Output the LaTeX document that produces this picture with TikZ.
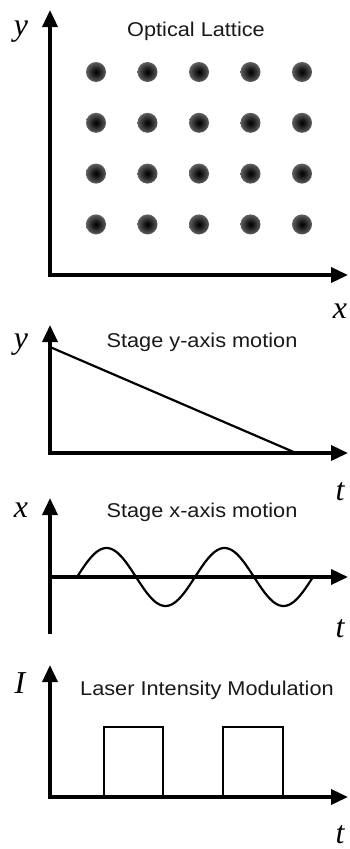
\documentclass[tikz,border=0pt]{standalone}
\usepackage{fontspec}
\setmainfont{Liberation Sans}
\newfontfamily\varfont{Liberation Serif}
\usepackage{graphicx}
\usetikzlibrary{arrows.meta}
\pgfdeclareradialshading{latticedot}{\pgfpoint{0bp}{0bp}}{color(0bp)=(black); color(8bp)=(black!90); color(25bp)=(black!62); color(50bp)=(black!35)}
\tikzset{
  axis/.style={line width=3.5bp,line cap=rect,-{Triangle[length=17bp,width=15bp]}},
  curve/.style={line width=2.2bp},
  title/.style={anchor=base,inner sep=0pt,text=black!90,font=\fontsize{20}{22}\selectfont},
  var/.style={anchor=base,inner sep=0pt,font=\varfont\itshape\fontsize{32}{34}\selectfont},
}
\newcommand\wide[1]{\scalebox{1.09}[1]{#1}}
\begin{document}
\begin{tikzpicture}[x=1bp,y=-1bp]
  \useasboundingbox (0,0) rectangle (349,849);
  % axes of the four panels: origin, top, bottom, right
  \foreach \n/\oy/\ty/\by in {1/275/10/275,2/453/325/453,3/577/498/632,4/797/665/797}{
    \coordinate (o\n) at (50,\oy);
    \coordinate (top\n) at (50,\ty);
    \coordinate (bot\n) at (50,\by);
    \coordinate (end\n) at (348,\oy);
    \draw[axis] (bot\n) -- (top\n);
    \draw[axis] (o\n) -- (end\n);
  }
  % optical lattice
  \node[title] (lattice) at (196,36) {\wide{Optical Lattice}};
  \node[var] (ly) at (21,35) {y};
  \node[var] (lx) at (340,318) {x};
  \foreach \i in {0,...,4}
    \foreach \j in {0,...,3}
      \shade[shading=latticedot] ({96+51.5*\i},{72+50.8*\j}) circle (10bp);
  % stage y-axis motion
  \node[title] (ymotion) at (202,347) {\wide{Stage y-axis motion}};
  \node[var] (my) at (21,348) {y};
  \node[var] (mt) at (340,500) {t};
  \coordinate (rampa) at (50,347);
  \coordinate (rampb) at (296,453);
  \draw[curve] (rampa) -- (rampb);
  % stage x-axis motion
  \node[title] (xmotion) at (202,517) {\wide{Stage x-axis motion}};
  \node[var] (sx) at (21,517) {x};
  \node[var] (st) at (340,637) {t};
  \draw[curve] plot[domain=0:2,samples=120,smooth] ({77+118*\x},{577-29*sin(360*\x)});
  % laser intensity modulation
  \node[title] (laser) at (207,695) {\wide{Laser Intensity Modulation}};
  \node[var] (li) at (20,693) {I};
  \node[var] (lt) at (340,843) {t};
  \foreach \a/\b in {104/163,223/283}
    \draw[curve] (\a,797) -- (\a,727) -- (\b,727) -- (\b,797);
\end{tikzpicture}
\end{document}
